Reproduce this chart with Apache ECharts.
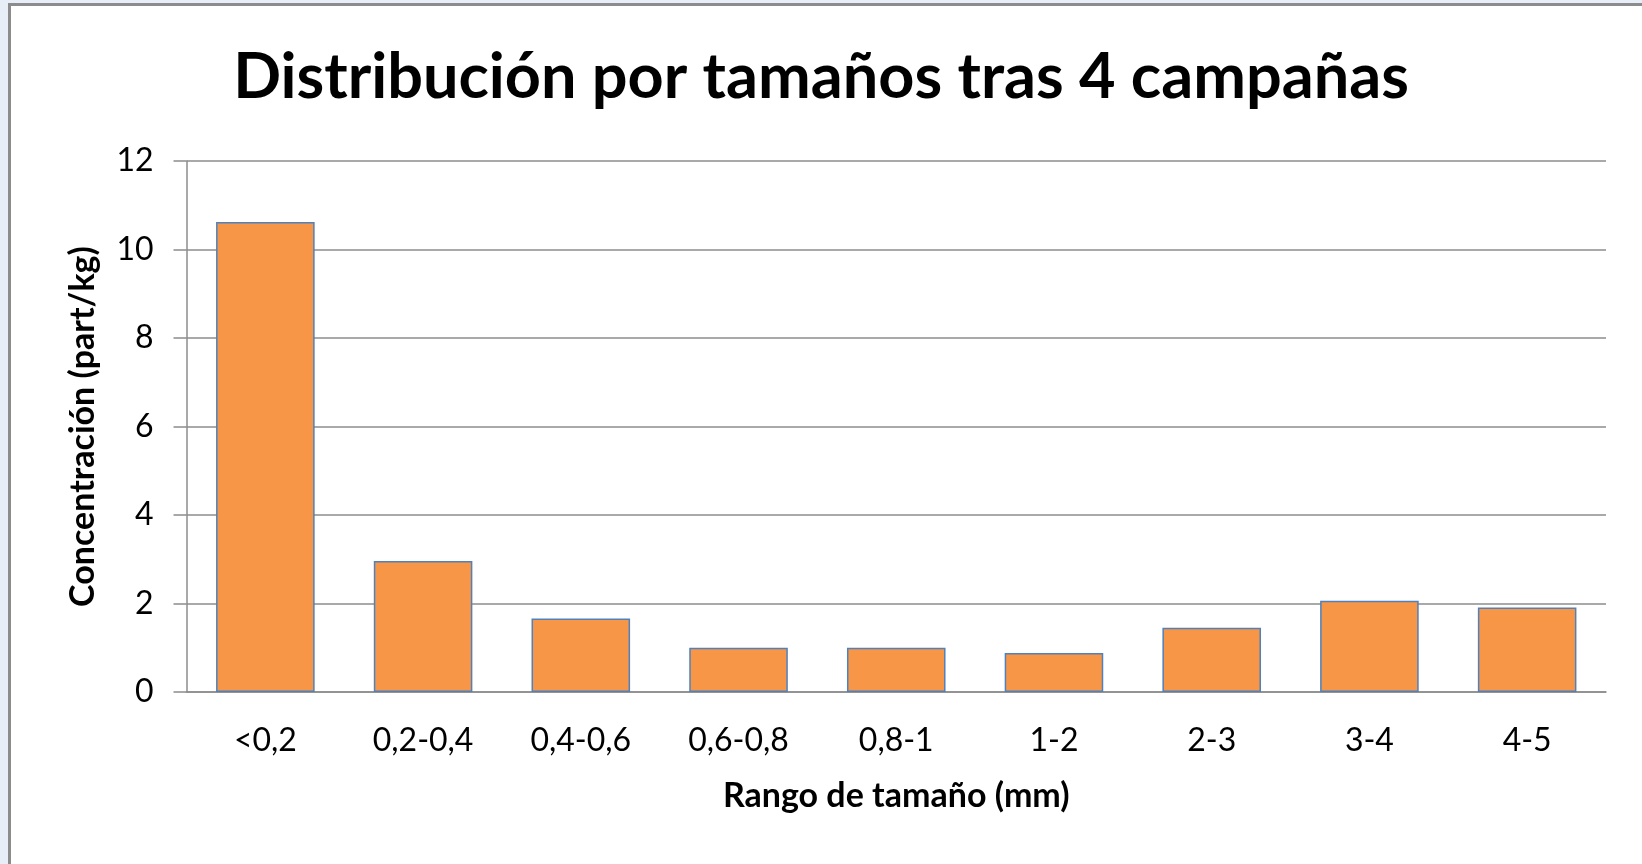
<!DOCTYPE html>
<html>
<head>
<meta charset="utf-8">
<script src="https://cdn.jsdelivr.net/npm/echarts@6/dist/echarts.min.js"></script>
<style>
  html, body { margin: 0; padding: 0; background: #e8eef8; overflow: hidden; }
  #frame {
    position: absolute; left: 8px; top: 3px; width: 1650px; height: 880px;
    background: #fff; border-left: 3px solid #8c8c8c; border-top: 3px solid #8c8c8c;
  }
  #main { position: absolute; left: 0; top: 0; width: 1642px; height: 864px; }
</style>
</head>
<body>
<div id="frame"></div>
<div id="main"></div>
<script>
var categories = ['<0,2', '0,2-0,4', '0,4-0,6', '0,6-0,8', '0,8-1', '1-2', '2-3', '3-4', '4-5'];
var concentracion = [10.62, 2.96, 1.66, 1.0, 1.0, 0.88, 1.45, 2.06, 1.91];

var myChart = echarts.init(document.getElementById('main'));
var font = 'Lato';
var option = {
    animation: false,
    title: {
        text: 'Distribución por tamaños tras 4 campañas',
        left: 'center',
        top: 41,
        textStyle: { fontFamily: font, fontWeight: 'bold', fontSize: 63, color: '#000' }
    },
    grid: {
        left: 186.5,
        right: 36,
        top: 161,
        bottom: 172
    },
    xAxis: {
        type: 'category',
        data: categories,
        name: 'Rango de tamaño (mm)',
        nameLocation: 'middle',
        nameGap: 87,
        nameTextStyle: { fontFamily: font, fontWeight: 'bold', fontSize: 34, color: '#000' },
        axisLine: { lineStyle: { color: '#8c8c8c', width: 1.5 } },
        axisTick: { length: 12, lineStyle: { color: '#8c8c8c', width: 1.5 } },
        axisLabel: { margin: 33, fontFamily: font, fontSize: 32, color: '#000' }
    },
    yAxis: {
        type: 'value',
        min: 0,
        max: 12,
        interval: 2,
        name: 'Concentración (part/kg)',
        nameLocation: 'middle',
        nameGap: 86,
        nameTextStyle: { fontFamily: font, fontWeight: 'bold', fontSize: 34, color: '#000' },
        axisLine: { show: true, lineStyle: { color: '#8c8c8c', width: 1.5 } },
        axisTick: { show: true, length: 13, lineStyle: { color: '#8c8c8c', width: 1.5 } },
        axisLabel: { margin: 33, fontFamily: font, fontSize: 32, color: '#000' },
        splitLine: { lineStyle: { color: '#8c8c8c', width: 1.5 } }
    },
    series: [
        {
            name: 'Concentración',
            type: 'bar',
            barCategoryGap: '37.5%',
            data: concentracion,
            itemStyle: { color: '#f79646', borderColor: '#4f81bd', borderWidth: 1.5 }
        }
    ]
};
myChart.setOption(option);
</script>
</body>
</html>
